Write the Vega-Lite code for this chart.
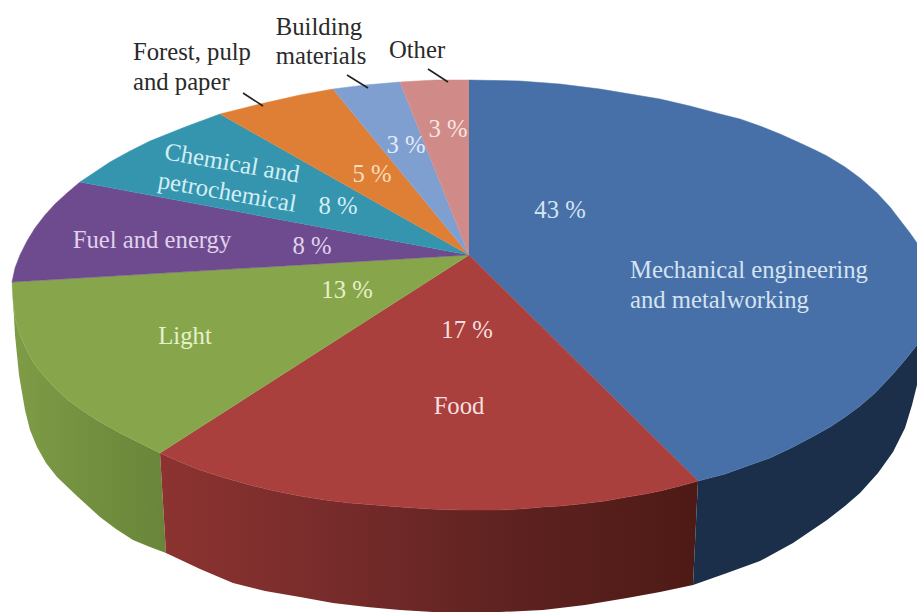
{
  "$schema": "https://vega.github.io/schema/vega-lite/v6.json",
  "width": 917,
  "height": 612,
  "autosize": "none",
  "padding": 0,
  "background": "#ffffff",
  "config": {"view": {"stroke": null}},
  "datasets": {
    "top": [
      {"slice":"Mechanical engineering and metalworking","share":43,"seq":0,"x":469,"y":255},{"slice":"Mechanical engineering and metalworking","share":43,"seq":1,"x":469,"y":80},{"slice":"Mechanical engineering and metalworking","share":43,"seq":2,"x":520,"y":81},{"slice":"Mechanical engineering and metalworking","share":43,"seq":3,"x":560,"y":84},{"slice":"Mechanical engineering and metalworking","share":43,"seq":4,"x":600,"y":89},{"slice":"Mechanical engineering and metalworking","share":43,"seq":5,"x":630,"y":94},{"slice":"Mechanical engineering and metalworking","share":43,"seq":6,"x":660,"y":99},{"slice":"Mechanical engineering and metalworking","share":43,"seq":7,"x":690,"y":106},{"slice":"Mechanical engineering and metalworking","share":43,"seq":8,"x":720,"y":114},{"slice":"Mechanical engineering and metalworking","share":43,"seq":9,"x":740,"y":119},{"slice":"Mechanical engineering and metalworking","share":43,"seq":10,"x":760,"y":126},{"slice":"Mechanical engineering and metalworking","share":43,"seq":11,"x":780,"y":134},{"slice":"Mechanical engineering and metalworking","share":43,"seq":12,"x":800,"y":143},{"slice":"Mechanical engineering and metalworking","share":43,"seq":13,"x":815,"y":150},{"slice":"Mechanical engineering and metalworking","share":43,"seq":14,"x":827,"y":156},{"slice":"Mechanical engineering and metalworking","share":43,"seq":15,"x":845,"y":167},{"slice":"Mechanical engineering and metalworking","share":43,"seq":16,"x":860,"y":178},{"slice":"Mechanical engineering and metalworking","share":43,"seq":17,"x":877,"y":193},{"slice":"Mechanical engineering and metalworking","share":43,"seq":18,"x":890,"y":207},{"slice":"Mechanical engineering and metalworking","share":43,"seq":19,"x":900,"y":220},{"slice":"Mechanical engineering and metalworking","share":43,"seq":20,"x":910,"y":233},{"slice":"Mechanical engineering and metalworking","share":43,"seq":21,"x":917,"y":243},{"slice":"Mechanical engineering and metalworking","share":43,"seq":22,"x":917,"y":345},{"slice":"Mechanical engineering and metalworking","share":43,"seq":23,"x":905,"y":360},{"slice":"Mechanical engineering and metalworking","share":43,"seq":24,"x":893,"y":374},{"slice":"Mechanical engineering and metalworking","share":43,"seq":25,"x":875,"y":393},{"slice":"Mechanical engineering and metalworking","share":43,"seq":26,"x":860,"y":406},{"slice":"Mechanical engineering and metalworking","share":43,"seq":27,"x":845,"y":417},{"slice":"Mechanical engineering and metalworking","share":43,"seq":28,"x":830,"y":427},{"slice":"Mechanical engineering and metalworking","share":43,"seq":29,"x":812,"y":437},{"slice":"Mechanical engineering and metalworking","share":43,"seq":30,"x":793,"y":447},{"slice":"Mechanical engineering and metalworking","share":43,"seq":31,"x":770,"y":458},{"slice":"Mechanical engineering and metalworking","share":43,"seq":32,"x":750,"y":465},{"slice":"Mechanical engineering and metalworking","share":43,"seq":33,"x":725,"y":474},{"slice":"Mechanical engineering and metalworking","share":43,"seq":34,"x":698,"y":481},
      {"slice":"Food","share":17,"seq":0,"x":469,"y":255},{"slice":"Food","share":17,"seq":1,"x":698,"y":481},{"slice":"Food","share":17,"seq":2,"x":680,"y":486},{"slice":"Food","share":17,"seq":3,"x":660,"y":491},{"slice":"Food","share":17,"seq":4,"x":645,"y":494},{"slice":"Food","share":17,"seq":5,"x":627,"y":497},{"slice":"Food","share":17,"seq":6,"x":605,"y":501},{"slice":"Food","share":17,"seq":7,"x":580,"y":504},{"slice":"Food","share":17,"seq":8,"x":560,"y":506},{"slice":"Food","share":17,"seq":9,"x":543,"y":507},{"slice":"Food","share":17,"seq":10,"x":520,"y":509},{"slice":"Food","share":17,"seq":11,"x":500,"y":510},{"slice":"Food","share":17,"seq":12,"x":460,"y":510},{"slice":"Food","share":17,"seq":13,"x":430,"y":509},{"slice":"Food","share":17,"seq":14,"x":400,"y":507},{"slice":"Food","share":17,"seq":15,"x":375,"y":505},{"slice":"Food","share":17,"seq":16,"x":350,"y":503},{"slice":"Food","share":17,"seq":17,"x":325,"y":500},{"slice":"Food","share":17,"seq":18,"x":300,"y":496},{"slice":"Food","share":17,"seq":19,"x":275,"y":491},{"slice":"Food","share":17,"seq":20,"x":250,"y":485},{"slice":"Food","share":17,"seq":21,"x":225,"y":478},{"slice":"Food","share":17,"seq":22,"x":200,"y":470},{"slice":"Food","share":17,"seq":23,"x":180,"y":462},{"slice":"Food","share":17,"seq":24,"x":160,"y":453},
      {"slice":"Light","share":13,"seq":0,"x":469,"y":255},{"slice":"Light","share":13,"seq":1,"x":160,"y":453},{"slice":"Light","share":13,"seq":2,"x":140,"y":443},{"slice":"Light","share":13,"seq":3,"x":120,"y":433},{"slice":"Light","share":13,"seq":4,"x":100,"y":422},{"slice":"Light","share":13,"seq":5,"x":83,"y":411},{"slice":"Light","share":13,"seq":6,"x":68,"y":400},{"slice":"Light","share":13,"seq":7,"x":55,"y":388},{"slice":"Light","share":13,"seq":8,"x":45,"y":377},{"slice":"Light","share":13,"seq":9,"x":35,"y":365},{"slice":"Light","share":13,"seq":10,"x":27,"y":351},{"slice":"Light","share":13,"seq":11,"x":20,"y":335},{"slice":"Light","share":13,"seq":12,"x":15,"y":318},{"slice":"Light","share":13,"seq":13,"x":13,"y":300},{"slice":"Light","share":13,"seq":14,"x":12,"y":282},
      {"slice":"Fuel and energy","share":8,"seq":0,"x":469,"y":255},{"slice":"Fuel and energy","share":8,"seq":1,"x":12,"y":282},{"slice":"Fuel and energy","share":8,"seq":2,"x":15,"y":268},{"slice":"Fuel and energy","share":8,"seq":3,"x":20,"y":255},{"slice":"Fuel and energy","share":8,"seq":4,"x":27,"y":241},{"slice":"Fuel and energy","share":8,"seq":5,"x":35,"y":228},{"slice":"Fuel and energy","share":8,"seq":6,"x":45,"y":215},{"slice":"Fuel and energy","share":8,"seq":7,"x":55,"y":204},{"slice":"Fuel and energy","share":8,"seq":8,"x":67,"y":193},{"slice":"Fuel and energy","share":8,"seq":9,"x":80,"y":182},
      {"slice":"Chemical and petrochemical","share":8,"seq":0,"x":469,"y":255},{"slice":"Chemical and petrochemical","share":8,"seq":1,"x":80,"y":182},{"slice":"Chemical and petrochemical","share":8,"seq":2,"x":95,"y":172},{"slice":"Chemical and petrochemical","share":8,"seq":3,"x":110,"y":162},{"slice":"Chemical and petrochemical","share":8,"seq":4,"x":130,"y":151},{"slice":"Chemical and petrochemical","share":8,"seq":5,"x":150,"y":141},{"slice":"Chemical and petrochemical","share":8,"seq":6,"x":185,"y":127},{"slice":"Chemical and petrochemical","share":8,"seq":7,"x":220,"y":114},
      {"slice":"Forest, pulp and paper","share":5,"seq":0,"x":469,"y":255},{"slice":"Forest, pulp and paper","share":5,"seq":1,"x":220,"y":114},{"slice":"Forest, pulp and paper","share":5,"seq":2,"x":260,"y":104},{"slice":"Forest, pulp and paper","share":5,"seq":3,"x":300,"y":95},{"slice":"Forest, pulp and paper","share":5,"seq":4,"x":333,"y":89},
      {"slice":"Building materials","share":3,"seq":0,"x":469,"y":255},{"slice":"Building materials","share":3,"seq":1,"x":333,"y":89},{"slice":"Building materials","share":3,"seq":2,"x":365,"y":85},{"slice":"Building materials","share":3,"seq":3,"x":400,"y":82},
      {"slice":"Other","share":3,"seq":0,"x":469,"y":255},{"slice":"Other","share":3,"seq":1,"x":400,"y":82},{"slice":"Other","share":3,"seq":2,"x":435,"y":80},{"slice":"Other","share":3,"seq":3,"x":469,"y":80}
    ],
    "wallMechanical": [
      {"seq":0,"x":698,"y":481},{"seq":1,"x":725,"y":474},{"seq":2,"x":750,"y":465},{"seq":3,"x":770,"y":458},{"seq":4,"x":793,"y":447},{"seq":5,"x":812,"y":437},{"seq":6,"x":830,"y":427},{"seq":7,"x":845,"y":417},{"seq":8,"x":860,"y":406},{"seq":9,"x":875,"y":393},{"seq":10,"x":893,"y":374},{"seq":11,"x":905,"y":360},{"seq":12,"x":917,"y":345},{"seq":13,"x":917,"y":385},{"seq":14,"x":912,"y":405},{"seq":15,"x":905,"y":428},{"seq":16,"x":893,"y":452},{"seq":17,"x":878,"y":473},{"seq":18,"x":860,"y":493},{"seq":19,"x":845,"y":506},{"seq":20,"x":827,"y":520},{"seq":21,"x":793,"y":543},{"seq":22,"x":760,"y":561},{"seq":23,"x":727,"y":573},{"seq":24,"x":693,"y":585}
    ],
    "wallFood": [
      {"seq":0,"x":160,"y":453},{"seq":1,"x":180,"y":462},{"seq":2,"x":200,"y":470},{"seq":3,"x":225,"y":478},{"seq":4,"x":250,"y":485},{"seq":5,"x":275,"y":491},{"seq":6,"x":300,"y":496},{"seq":7,"x":325,"y":500},{"seq":8,"x":350,"y":503},{"seq":9,"x":375,"y":505},{"seq":10,"x":400,"y":507},{"seq":11,"x":430,"y":509},{"seq":12,"x":460,"y":510},{"seq":13,"x":500,"y":510},{"seq":14,"x":520,"y":509},{"seq":15,"x":543,"y":507},{"seq":16,"x":560,"y":506},{"seq":17,"x":580,"y":504},{"seq":18,"x":605,"y":501},{"seq":19,"x":627,"y":497},{"seq":20,"x":645,"y":494},{"seq":21,"x":660,"y":491},{"seq":22,"x":680,"y":486},{"seq":23,"x":698,"y":481},{"seq":24,"x":693,"y":585},{"seq":25,"x":660,"y":592},{"seq":26,"x":627,"y":598},{"seq":27,"x":585,"y":605},{"seq":28,"x":543,"y":610},{"seq":29,"x":500,"y":612},{"seq":30,"x":433,"y":612},{"seq":31,"x":400,"y":610},{"seq":32,"x":367,"y":607},{"seq":33,"x":333,"y":603},{"seq":34,"x":300,"y":597},{"seq":35,"x":265,"y":591},{"seq":36,"x":233,"y":583},{"seq":37,"x":200,"y":569},{"seq":38,"x":166,"y":553}
    ],
    "wallLight": [
      {"seq":0,"x":12,"y":282},{"seq":1,"x":13,"y":300},{"seq":2,"x":15,"y":318},{"seq":3,"x":20,"y":335},{"seq":4,"x":27,"y":351},{"seq":5,"x":35,"y":365},{"seq":6,"x":45,"y":377},{"seq":7,"x":55,"y":388},{"seq":8,"x":68,"y":400},{"seq":9,"x":83,"y":411},{"seq":10,"x":100,"y":422},{"seq":11,"x":120,"y":433},{"seq":12,"x":140,"y":443},{"seq":13,"x":160,"y":453},{"seq":14,"x":166,"y":553},{"seq":15,"x":150,"y":547},{"seq":16,"x":133,"y":540},{"seq":17,"x":116,"y":529},{"seq":18,"x":100,"y":517},{"seq":19,"x":78,"y":497},{"seq":20,"x":57,"y":477},{"seq":21,"x":46,"y":463},{"seq":22,"x":37,"y":447},{"seq":23,"x":30,"y":430},{"seq":24,"x":25,"y":410},{"seq":25,"x":19,"y":375},{"seq":26,"x":15,"y":335}
    ]
  },
  "layer": [
    {
      "data": {"name": "wallLight"},
      "mark": {"type": "line", "strokeWidth": 0, "fill": {"gradient": "linear", "x1": 0, "y1": 0, "x2": 1, "y2": 0, "stops": [{"offset": 0, "color": "#7f9c47"}, {"offset": 0.5, "color": "#72903f"}, {"offset": 1, "color": "#6a853a"}]}},
      "encoding": {
        "x": {"field": "x", "type": "quantitative", "scale": {"domain": [0, 917], "nice": false}, "axis": null},
        "y": {"field": "y", "type": "quantitative", "scale": {"domain": [612, 0], "nice": false}, "axis": null},
        "order": {"field": "seq", "type": "quantitative"}
      }
    },
    {
      "data": {"name": "wallFood"},
      "mark": {"type": "line", "strokeWidth": 0, "fill": {"gradient": "linear", "x1": 0, "y1": 0, "x2": 1, "y2": 0, "stops": [{"offset": 0, "color": "#8c3331"}, {"offset": 0.35, "color": "#752b2a"}, {"offset": 0.65, "color": "#5e2220"}, {"offset": 1, "color": "#4e1a15"}]}},
      "encoding": {
        "x": {"field": "x", "type": "quantitative"},
        "y": {"field": "y", "type": "quantitative"},
        "order": {"field": "seq", "type": "quantitative"}
      }
    },
    {
      "data": {"name": "wallMechanical"},
      "mark": {"type": "line", "strokeWidth": 0, "fill": "#1b2f4a"},
      "encoding": {
        "x": {"field": "x", "type": "quantitative"},
        "y": {"field": "y", "type": "quantitative"},
        "order": {"field": "seq", "type": "quantitative"}
      }
    },
    {
      "data": {"name": "top"},
      "mark": {"type": "line", "strokeWidth": 0.5},
      "encoding": {
        "x": {"field": "x", "type": "quantitative"},
        "y": {"field": "y", "type": "quantitative"},
        "order": {"field": "seq", "type": "quantitative"},
        "detail": {"field": "slice"},
        "fill": {"field": "slice", "type": "nominal", "legend": null, "scale": {
          "domain": ["Mechanical engineering and metalworking", "Food", "Light", "Fuel and energy", "Chemical and petrochemical", "Forest, pulp and paper", "Building materials", "Other"],
          "range": ["#4670a7", "#a9403e", "#87a64b", "#6e4a8f", "#3595ae", "#df7f35", "#7f9fd0", "#d08a88"]}},
        "stroke": {"field": "slice", "type": "nominal", "legend": null, "scale": {
          "domain": ["Mechanical engineering and metalworking", "Food", "Light", "Fuel and energy", "Chemical and petrochemical", "Forest, pulp and paper", "Building materials", "Other"],
          "range": ["#4670a7", "#a9403e", "#87a64b", "#6e4a8f", "#3595ae", "#df7f35", "#7f9fd0", "#d08a88"]}}
      }
    },
    {
      "data": {"values": [
        {"x":243,"y":93,"x2":263,"y2":106},
        {"x":347,"y":75,"x2":368,"y2":88},
        {"x":428,"y":69,"x2":448,"y2":82}
      ]},
      "mark": {"type": "rule", "color": "#222222", "strokeWidth": 1.6},
      "encoding": {
        "x": {"field": "x", "type": "quantitative"},
        "y": {"field": "y", "type": "quantitative"},
        "x2": {"field": "x2"},
        "y2": {"field": "y2"}
      }
    },
    {
      "data": {"values": [
        {"text":"43 %","slice":"Mechanical engineering and metalworking","x":560,"y":211},
        {"text":"17 %","slice":"Food","x":467,"y":331},
        {"text":"Food","slice":"Food","x":459,"y":407},
        {"text":"Light","slice":"Light","x":185,"y":337},
        {"text":"13 %","slice":"Light","x":347,"y":291},
        {"text":"Fuel and energy","slice":"Fuel and energy","x":152,"y":241},
        {"text":"8 %","slice":"Fuel and energy","x":312,"y":247},
        {"text":"8 %","slice":"Chemical and petrochemical","x":338,"y":207},
        {"text":"5 %","slice":"Forest, pulp and paper","x":372,"y":175},
        {"text":"3 %","slice":"Building materials","x":406,"y":146},
        {"text":"3 %","slice":"Other","x":448,"y":130}
      ]},
      "mark": {"type": "text", "font": "Liberation Serif", "fontSize": 24.7, "align": "center", "baseline": "middle"},
      "encoding": {
        "x": {"field": "x", "type": "quantitative"},
        "y": {"field": "y", "type": "quantitative"},
        "text": {"field": "text"},
        "color": {"field": "slice", "type": "nominal", "legend": null, "scale": {
          "domain": ["Mechanical engineering and metalworking", "Food", "Light", "Fuel and energy", "Chemical and petrochemical", "Forest, pulp and paper", "Building materials", "Other"],
          "range": ["#d5e3f2", "#f6dfdd", "#e6f1c9", "#e0d2ec", "#d2eef5", "#f8dcbc", "#e2ebf8", "#f8e4e2"]}}
      }
    },
    {
      "data": {"values": [
        {"text":"Mechanical engineering","x":630,"y":271},
        {"text":"and metalworking","x":630,"y":301}
      ]},
      "mark": {"type": "text", "font": "Liberation Serif", "fontSize": 24.7, "align": "left", "baseline": "middle", "color": "#d5e3f2"},
      "encoding": {
        "x": {"field": "x", "type": "quantitative"},
        "y": {"field": "y", "type": "quantitative"},
        "text": {"field": "text"}
      }
    },
    {
      "data": {"values": [
        {"text":"Chemical and","x":232,"y":164},
        {"text":"petrochemical","x":227,"y":193}
      ]},
      "mark": {"type": "text", "font": "Liberation Serif", "fontSize": 24.7, "align": "center", "baseline": "middle", "angle": 10, "color": "#d2eef5"},
      "encoding": {
        "x": {"field": "x", "type": "quantitative"},
        "y": {"field": "y", "type": "quantitative"},
        "text": {"field": "text"}
      }
    },
    {
      "data": {"values": [
        {"text":"Forest, pulp","x":133,"y":53},
        {"text":"and paper","x":133,"y":83}
      ]},
      "mark": {"type": "text", "font": "Liberation Serif", "fontSize": 24.7, "align": "left", "baseline": "middle", "color": "#2a2a2a"},
      "encoding": {
        "x": {"field": "x", "type": "quantitative"},
        "y": {"field": "y", "type": "quantitative"},
        "text": {"field": "text"}
      }
    },
    {
      "data": {"values": [
        {"text":"Building","x":319,"y":28},
        {"text":"materials","x":321,"y":57},
        {"text":"Other","x":417,"y":51}
      ]},
      "mark": {"type": "text", "font": "Liberation Serif", "fontSize": 24.7, "align": "center", "baseline": "middle", "color": "#2a2a2a"},
      "encoding": {
        "x": {"field": "x", "type": "quantitative"},
        "y": {"field": "y", "type": "quantitative"},
        "text": {"field": "text"}
      }
    }
  ]
}
